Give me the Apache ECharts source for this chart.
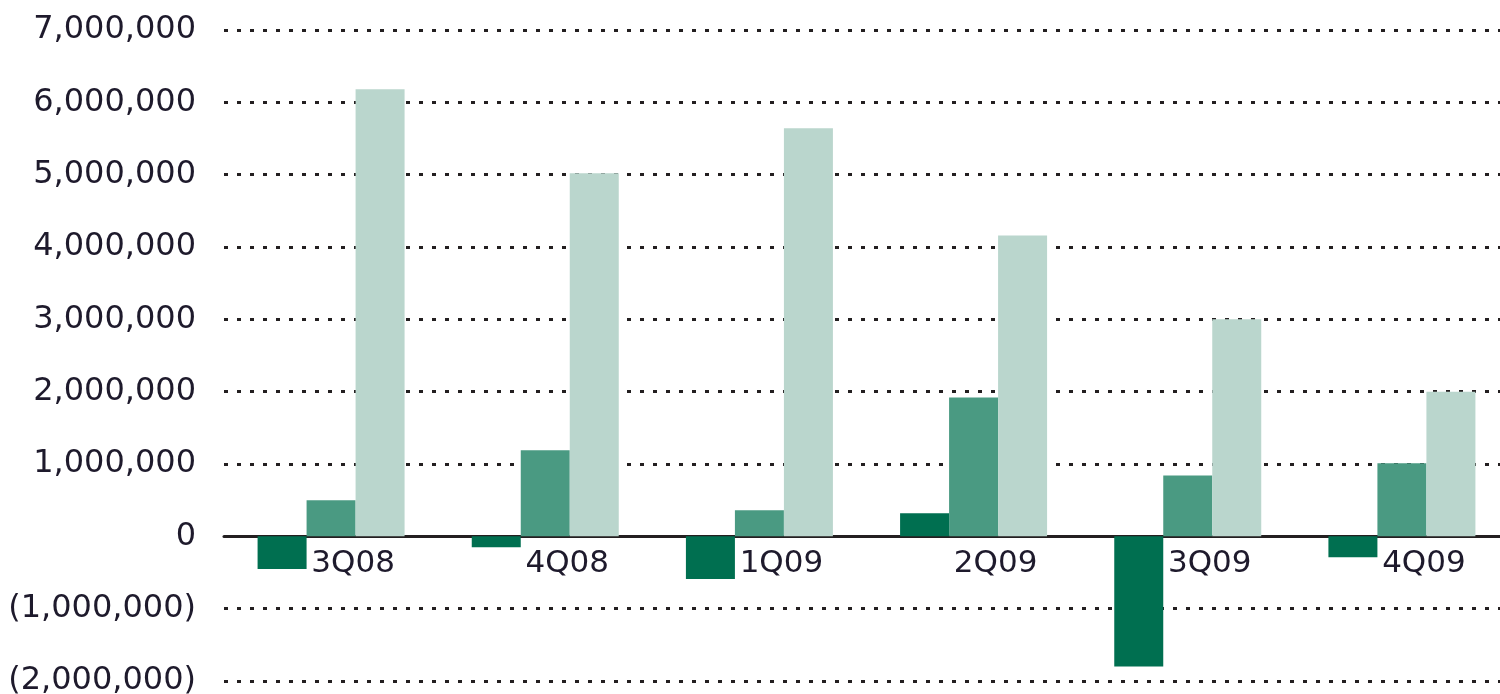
<!DOCTYPE html>
<html>
<head>
<meta charset="utf-8">
<style>
  html, body { margin: 0; padding: 0; background: #fff; }
  #chart { width: 1500px; height: 694px; }
</style>
<script src="https://cdn.jsdelivr.net/npm/echarts@6/dist/echarts.min.js"></script>
</head>
<body>
<div id="chart"></div>
<script>
// quarters on the x axis
const quarters = ['3Q08', '4Q08', '1Q09', '2Q09', '3Q09', '4Q09']
// three series
const seriesDark = [-450000, -150000, -590000, 320000, -1800000, -290000]
const seriesMid = [500000, 1190000, 360000, 1920000, 840000, 1010000]
const seriesLight = [6180000, 5020000, 5640000, 4160000, 3000000, 2000000]

const textColor = '#1e1a2c'
const lineColor = '#231f20'
const font = 'DejaVu Sans'

function fmt(v) {
  const s = Math.abs(v).toLocaleString('en-US')
  return v < 0 ? '(' + s + ')' : s
}

const chart = echarts.init(document.getElementById('chart'))

function bar(name, data, color) {
  return {
    name: name,
    type: 'bar',
    barWidth: 49,
    barGap: 0,
    itemStyle: { color: color },
    data: data
  }
}

chart.setOption({
  animation: false,
  grid: {
    left: 224,
    top: 30,
    width: 1285,
    bottom: 13,
    outerBoundsMode: 'none'
  },
  xAxis: {
    type: 'category',
    data: quarters,
    position: 'bottom',
    // zero sits 2 steps above the bottom of the grid
    offset: -144.7,
    axisLine: { onZero: false, lineStyle: { color: lineColor, width: 3 } },
    axisTick: { show: false },
    axisLabel: {
      color: textColor,
      fontFamily: font,
      fontSize: 31,
      margin: 12,
      padding: [0, 0, 0, 44]
    }
  },
  yAxis: {
    type: 'value',
    min: -2000000,
    max: 7000000,
    interval: 1000000,
    axisLine: { show: false },
    axisTick: { show: false },
    axisLabel: {
      color: textColor,
      fontFamily: font,
      fontSize: 32,
      margin: 28,
      formatter: fmt
    },
    splitLine: {
      lineStyle: { color: lineColor, width: 3, type: [4, 9] }
    }
  },
  series: [
    bar('a', seriesDark, '#006f50'),
    bar('b', seriesMid, '#4a9a82'),
    bar('c', seriesLight, '#bad6cd')
  ]
})
</script>
</body>
</html>
